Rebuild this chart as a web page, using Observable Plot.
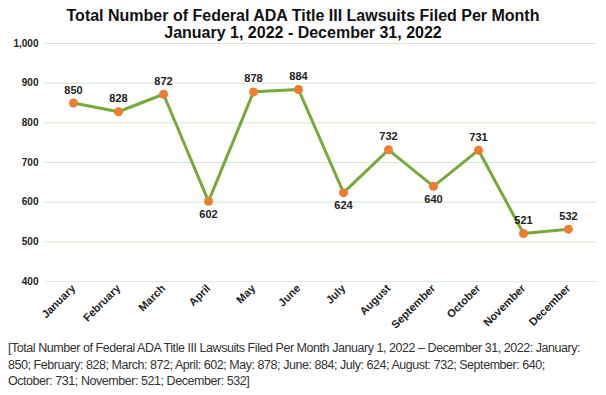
<!DOCTYPE html>
<html><head><meta charset="utf-8">
<script src="https://cdn.jsdelivr.net/npm/d3@7"></script>
<script src="https://cdn.jsdelivr.net/npm/@observablehq/plot@0.6"></script>
<style>
body{margin:0;background:#fff;font-family:Arial,"Liberation Sans",sans-serif;width:606px;}
#title{height:40px;text-align:center;font-weight:bold;font-size:16px;line-height:17px;padding-top:7px;box-sizing:border-box;color:#111;}
#caption{font-size:12.5px;letter-spacing:-0.45px;line-height:16.5px;color:#333;padding:2px 20px 0 8px;}
</style></head><body>
<div id="title">Total Number of Federal ADA Title III Lawsuits Filed Per Month<br>January 1, 2022 - December 31, 2022</div>
<div id="chart"></div>
<div id="caption">[Total Number of Federal ADA Title III Lawsuits Filed Per Month January 1, 2022 – December 31, 2022: January: 850; February: 828; March: 872; April: 602; May: 878; June: 884; July: 624; August: 732; September: 640; October: 731; November: 521; December: 532]</div>
<script>
const months = ["January","February","March","April","May","June","July","August","September","October","November","December"];
const lawsuits = [850,828,872,602,878,884,624,732,640,731,521,532];
const labelBelow = ["April","July","September"];
const yTicks = [400,500,600,700,800,900,1000];

const data = months.map((m,i)=>({month:m, value:lawsuits[i], below: labelBelow.includes(m)}));

const chart = Plot.plot({
  width:606, height:298,
  marginLeft:45, marginRight:10, marginTop:3, marginBottom:57,
  style:{fontFamily:"Arial, 'Liberation Sans', sans-serif", background:"#fff", overflow:"visible"},
  x:{type:"point", domain:months, padding:0.5, label:null},
  y:{domain:[400,1000], label:null},
  marks:[
    Plot.ruleY(yTicks.filter(t=>t>400),{stroke:"#d3e8cc", strokeWidth:1}),
    Plot.ruleY([400],{stroke:"#dfe7ef", strokeWidth:1}),
    Plot.axisY({ticks:yTicks, tickSize:0, tickPadding:7, tickFormat:d3.format(","), fontWeight:"bold", fontSize:10, fill:"#222", label:null}),
    Plot.axisX({tickSize:0, tickRotate:-45, tickPadding:5, fontWeight:"bold", fontSize:11, fill:"#222", label:null}),
    Plot.line(data,{x:"month", y:"value", stroke:"#77a93b", strokeWidth:3}),
    Plot.dot(data,{x:"month", y:"value", r:4.5, fill:"#ed7d31", stroke:"none"}),
    Plot.text(data.filter(d=>!d.below),{x:"month", y:"value", text:d=>String(d.value), dy:-13, fontWeight:"bold", fontSize:11, fill:"#222"}),
    Plot.text(data.filter(d=>d.below),{x:"month", y:"value", text:d=>String(d.value), dy:13, fontWeight:"bold", fontSize:11, fill:"#222"})
  ]
});
document.getElementById("chart").appendChild(chart);
</script>
</body></html>
